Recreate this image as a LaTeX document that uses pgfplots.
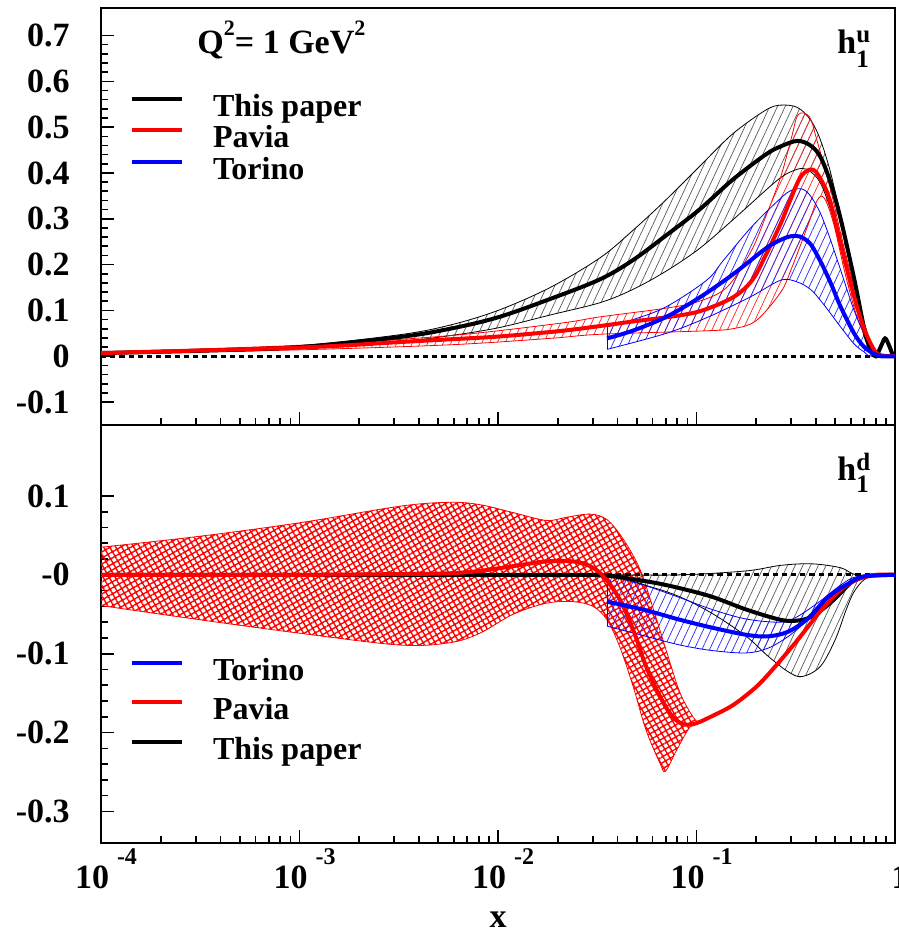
\documentclass[border=0pt]{standalone}
\usepackage{pgfplots}
\pgfplotsset{compat=1.18}
\usepgfplotslibrary{fillbetween}
\usetikzlibrary{patterns.meta}
\usepackage{fontspec}
\setmainfont{Liberation Serif}
\newcommand{\fs}[1]{\fontsize{#1}{#1}\selectfont\bfseries}
\newcommand{\xsup}[1]{\hspace{4pt}\raisebox{12pt}{\fs{12}#1}}
\newcommand{\tsup}[1]{\raisebox{9pt}{\fs{11}#1}}
\tikzset{
  hatchfill/.style={pattern={Lines[angle=65,distance=3.5pt,line width=0.35pt]}, pattern color=#1, draw=none},
  zeroline/.style={black, line width=1.5pt, dash pattern=on 2.6pt off 2pt},
}
\pgfplotsset{
  thickcurve/.style={line width=2pt, smooth, tension=0.55},
  thincurve/.style={line width=0.4pt, smooth, tension=0.55},
  legend image code/.code={\path (0pt,0pt) (39.5pt,0pt); \draw[#1] (0pt,5.5pt) -- (25pt,5.5pt);},
  every axis/.append style={
    xmode=log, xmin=1e-4, xmax=1,
    width=397pt, scale only axis, anchor=south west,
    axis line style={line width=0.9pt},
    tick align=inside, tick pos=left,
    major tick length=6.5pt, minor tick length=3.5pt,
    every tick/.style={black, line width=0.8pt},
    xtick={1e-4,1e-3,1e-2,1e-1,1},
    minor xtick={2e-4,3e-4,4e-4,5e-4,6e-4,7e-4,8e-4,9e-4,2e-3,3e-3,4e-3,5e-3,6e-3,7e-3,8e-3,9e-3,0.02,0.03,0.04,0.05,0.06,0.07,0.08,0.09,0.2,0.3,0.4,0.5,0.6,0.7,0.8,0.9},
    minor y tick num=4,
    yticklabel style={font=\fs{17}, inner sep=0pt, anchor=east, xshift=-15.5pt},
    legend cell align=left,
  },
}
\begin{document}
\begin{tikzpicture}

%%%%%%%%%%%%%%%% TOP PANEL %%%%%%%%%%%%%%%%
\begin{axis}[at={(0,209pt)}, height=208.5pt,
  ymin=-0.15, ymax=0.76,
  ytick={-0.1,0,0.1,0.2,0.3,0.4,0.5,0.6,0.7},
  yticklabels={-0.1,0,0.1,0.2,0.3,0.4,0.5,0.6,0.7},
  xticklabels={},
  legend style={draw=none, fill=none, font=\fs{16}, inner sep=0pt, outer sep=0pt, row sep=0pt,
    nodes={inner sep=0pt, text height=11pt, text depth=4.75pt},
    at={(axis description cs:0,1)}, anchor=north west, xshift=14.5pt, yshift=-43pt},
]
\addplot[zeroline, forget plot] coordinates {(1e-4,0) (1,0)};

% black band (This paper)
\addplot[thincurve, smooth, black, name path=BU, forget plot] coordinates {
(1e-4,0.008) (3.16e-4,0.013) (1e-3,0.023) (0.0032,0.047) (0.00573,0.068) (0.01,0.10)
(0.0183,0.15) (0.0327,0.215) (0.0479,0.275) (0.0704,0.342) (0.1034,0.414) (0.1518,0.485)
(0.2228,0.537) (0.2657,0.548) (0.322,0.543) (0.375,0.516) (0.421,0.472) (0.474,0.40)
(0.532,0.304) (0.622,0.173) (0.70,0.072) (0.787,0.013) (0.85,0.0) (1,0)};
\addplot[thincurve, smooth, black, name path=BL, forget plot] coordinates {
(1e-4,0.006) (3.16e-4,0.010) (1e-3,0.017) (0.0032,0.032) (0.00573,0.045) (0.01,0.062)
(0.0183,0.09) (0.0327,0.117) (0.0479,0.146) (0.0704,0.186) (0.1034,0.235) (0.1518,0.297)
(0.2228,0.362) (0.2657,0.39) (0.30,0.403) (0.34,0.41) (0.375,0.403) (0.421,0.378)
(0.474,0.319) (0.532,0.239) (0.622,0.13) (0.70,0.042) (0.76,0.006) (0.80,0) (1,0)};
\addplot[hatchfill=black!65, forget plot] fill between[of=BU and BL];

% red band (Pavia)
\addplot[thincurve, smooth, red, name path=RU, forget plot] coordinates {
(1e-4,0.009) (1e-3,0.024) (0.00573,0.045) (0.0205,0.072) (0.0327,0.086) (0.0704,0.105)
(0.1034,0.12) (0.1425,0.151) (0.1876,0.228) (0.2228,0.304) (0.2657,0.392) (0.30,0.475)
(0.325,0.527) (0.37,0.523) (0.405,0.47) (0.474,0.363) (0.532,0.268) (0.622,0.15)
(0.72,0.04) (0.82,0.003) (1,0)};
\addplot[thincurve, smooth, red, name path=RL, forget plot] coordinates {
(1e-4,0.005) (1e-3,0.014) (0.00573,0.025) (0.0183,0.039) (0.0327,0.048) (0.1034,0.055)
(0.1518,0.06) (0.2,0.078) (0.2657,0.14) (0.30,0.19) (0.36,0.28) (0.405,0.34)
(0.44,0.345) (0.49,0.29) (0.566,0.173) (0.66,0.072) (0.787,0.01) (0.85,0) (1,0)};
\addplot[hatchfill=red!85, forget plot] fill between[of=RU and RL];

% blue band (Torino)
\addplot[thincurve, smooth, blue, name path=TU, forget plot] coordinates {
(0.0354,0.064) (0.0479,0.08) (0.0704,0.108) (0.1125,0.166) (0.137,0.21) (0.19,0.283)
(0.2657,0.345) (0.30,0.362) (0.34,0.365) (0.375,0.35) (0.421,0.312) (0.474,0.253)
(0.532,0.188) (0.622,0.10) (0.70,0.05) (0.787,0.013) (0.87,0) (1,0)};
\addplot[thincurve, smooth, blue, name path=TL, forget plot] coordinates {
(0.0354,0.015) (0.0704,0.05) (0.115,0.086) (0.1876,0.13) (0.2657,0.166) (0.322,0.162)
(0.375,0.146) (0.421,0.122) (0.474,0.093) (0.532,0.064) (0.622,0.027) (0.70,0.009)
(0.76,0) (1,0)};
\addplot[blue, line width=0.4pt, forget plot] coordinates {(0.0354,0.015) (0.0354,0.064)};
\addplot[hatchfill=blue!85, forget plot] fill between[of=TU and TL];

% central curves
\addplot[thickcurve, smooth, black, forget plot] coordinates {
(1e-4,0.007) (3.16e-4,0.012) (1e-3,0.02) (0.0032,0.042) (0.00573,0.06) (0.01,0.085)
(0.0183,0.125) (0.0327,0.168) (0.0479,0.21) (0.0704,0.264) (0.1034,0.32) (0.1518,0.385)
(0.2228,0.44) (0.2657,0.458) (0.322,0.47) (0.375,0.46) (0.421,0.435) (0.474,0.378)
(0.532,0.30) (0.622,0.17) (0.70,0.06) (0.76,0.012) (0.80,0.0) (0.85,0.022)
(0.89,0.039) (0.93,0.025) (0.97,0.005) (1,0)};
\addplot[thickcurve, smooth, red, forget plot] coordinates {
(1e-4,0.007) (1e-3,0.019) (0.0032,0.031) (0.00573,0.037) (0.01,0.043) (0.0205,0.055)
(0.0327,0.066) (0.0479,0.076) (0.0704,0.085) (0.1034,0.098) (0.1518,0.128) (0.19,0.165)
(0.2228,0.22) (0.2657,0.29) (0.296,0.34) (0.333,0.39) (0.37,0.407) (0.40,0.402)
(0.442,0.37) (0.474,0.334) (0.532,0.246) (0.622,0.13) (0.70,0.059) (0.787,0.013)
(0.85,0.002) (1,0)};
\addplot[thickcurve, smooth, blue, forget plot] coordinates {
(0.0354,0.039) (0.0479,0.056) (0.0704,0.086) (0.1034,0.128) (0.1518,0.178) (0.2228,0.235)
(0.2657,0.254) (0.30,0.262) (0.333,0.261) (0.375,0.245) (0.421,0.207) (0.474,0.16)
(0.532,0.108) (0.622,0.05) (0.70,0.02) (0.787,0.005) (0.85,0) (1,0)};

\addlegendimage{black, line width=2pt}
\addlegendentry{This paper}
\addlegendimage{red, line width=2pt}
\addlegendentry{Pavia}
\addlegendimage{blue, line width=2pt}
\addlegendentry{Torino}

\node[anchor=base west, font=\fs{17}, inner sep=0pt] at (axis description cs:0.121,0.892) {Q\tsup{2}= 1 GeV\tsup{2}};
\node[anchor=base west, font=\fs{17}, inner sep=0pt] at (axis description cs:0.927,0.892) {h\rlap{\fs{12.5}\raisebox{5.5pt}{u}}\raisebox{-7pt}{\fs{12.5}1}};
\end{axis}

%%%%%%%%%%%%%%%% BOTTOM PANEL %%%%%%%%%%%%%%%%
\begin{axis}[at={(0,0)}, height=209pt,
  ymin=-0.34, ymax=0.19,
  ytick={-0.3,-0.2,-0.1,0,0.1},
  yticklabels={-0.3,-0.2,-0.1,-0,0.1},
  xticklabels={{10\xsup{-4}},{10\xsup{-3}},{10\xsup{-2}},{10\xsup{-1}},1},
  xticklabel style={font=\fs{17}, anchor=base, inner sep=0pt, yshift=-23pt, xshift=2.5pt},
  xlabel={x},
  xlabel style={font=\fs{17}, at={(axis description cs:0.5,0)}, anchor=base, inner sep=0pt, yshift=-42pt},
  legend style={draw=none, fill=none, font=\fs{16}, inner sep=0pt, outer sep=0pt, row sep=4pt,
    nodes={inner sep=0pt, text height=11pt, text depth=4.75pt},
    at={(axis description cs:0,1)}, anchor=north west, xshift=14.5pt, yshift=-116.5pt},
]
\addplot[zeroline, forget plot] coordinates {(1e-4,0) (1,0)};

% red band (Pavia)
\addplot[thincurve, smooth, red, name path=RU, forget plot] coordinates {
(1e-4,0.035) (3.16e-4,0.049) (1e-3,0.066) (0.0032,0.087) (0.00573,0.092) (0.0081,0.089)
(0.0119,0.079) (0.0175,0.069) (0.0221,0.073) (0.0291,0.077) (0.0354,0.07) (0.0428,0.045)
(0.0519,0.007) (0.0607,-0.044) (0.071,-0.099) (0.0827,-0.15) (0.0965,-0.181) (0.104,-0.188)};
\addplot[thincurve, smooth, red, name path=RL, forget plot] coordinates {
(1e-4,-0.039) (3.16e-4,-0.057) (1e-3,-0.074) (0.0032,-0.089) (0.00573,-0.086) (0.0081,-0.074)
(0.0119,-0.05) (0.0175,-0.036) (0.0239,-0.034) (0.0301,-0.04) (0.0354,-0.057) (0.041,-0.091)
(0.048,-0.142) (0.0557,-0.197) (0.0655,-0.239) (0.0697,-0.249) (0.0795,-0.222) (0.0927,-0.193)
(0.104,-0.188)};
\addplot[pattern={Hatch[angle=30,distance=2.6pt,line width=0.7pt]}, pattern color=red, draw=none, forget plot] fill between[of=RU and RL];

% black band (This paper)
\addplot[thincurve, smooth, black, name path=BU, forget plot] coordinates {
(1e-4,0) (0.01,0) (0.0354,0) (0.0826,0.0) (0.178,0.005) (0.265,0.012) (0.38,0.014)
(0.532,0.009) (0.645,0.0) (1,0)};
\addplot[thincurve, smooth, black, name path=BL, forget plot] coordinates {
(1e-4,0) (0.01,0) (0.0354,-0.002) (0.0583,-0.015) (0.0826,-0.028) (0.12,-0.049)
(0.178,-0.078) (0.229,-0.103) (0.29,-0.123) (0.34,-0.129) (0.421,-0.116) (0.5,-0.082)
(0.566,-0.045) (0.62,-0.022) (0.7,-0.006) (0.8,-0.001) (1,0)};
\addplot[hatchfill=black!65, forget plot] fill between[of=BU and BL];

% blue band (Torino)
\addplot[thincurve, smooth, blue, name path=TU, forget plot] coordinates {
(0.0354,0.0) (0.0557,-0.014) (0.0826,-0.029) (0.12,-0.044) (0.178,-0.056) (0.265,-0.06)
(0.322,-0.053) (0.421,-0.033) (0.532,-0.013) (0.65,-0.002) (1,0)};
\addplot[thincurve, smooth, blue, name path=TL, forget plot] coordinates {
(0.0354,-0.065) (0.0557,-0.078) (0.0826,-0.089) (0.12,-0.096) (0.178,-0.099) (0.229,-0.093)
(0.29,-0.078) (0.365,-0.057) (0.46,-0.033) (0.593,-0.01) (0.7,-0.001) (1,0)};
\addplot[blue, line width=0.4pt, forget plot] coordinates {(0.0354,-0.065) (0.0354,0)};
\addplot[hatchfill=blue!85, forget plot] fill between[of=TU and TL];

% central curves
\addplot[thickcurve, smooth, black, forget plot] coordinates {
(1e-4,0) (0.001,0) (0.01,0) (0.025,0) (0.0354,-0.001) (0.0583,-0.009) (0.0826,-0.017)
(0.1203,-0.028) (0.178,-0.044) (0.265,-0.057) (0.322,-0.058) (0.38,-0.053) (0.47,-0.036)
(0.593,-0.011) (0.645,-0.005) (0.75,-0.001) (1,0)};
\addplot[thickcurve, smooth, red, forget plot] coordinates {
(1e-4,0.0) (1e-3,0.0) (0.0032,0.001) (0.00573,0.002) (0.0081,0.005) (0.0119,0.011)
(0.0175,0.017) (0.0239,0.017) (0.0291,0.011) (0.034,-0.002) (0.041,-0.031) (0.048,-0.07)
(0.0557,-0.116) (0.0655,-0.154) (0.0764,-0.181) (0.088,-0.19) (0.1,-0.188) (0.12,-0.179)
(0.153,-0.165) (0.2,-0.142) (0.2456,-0.118) (0.322,-0.083) (0.421,-0.046) (0.532,-0.019)
(0.645,-0.006) (0.8,0) (1,0)};
\addplot[thickcurve, smooth, blue, forget plot] coordinates {
(0.0354,-0.034) (0.0557,-0.045) (0.0826,-0.057) (0.12,-0.067) (0.178,-0.076) (0.229,-0.078)
(0.29,-0.072) (0.365,-0.055) (0.46,-0.028) (0.593,-0.01) (0.7,-0.002) (1,0)};

\addlegendimage{blue, line width=2pt}
\addlegendentry{Torino}
\addlegendimage{red, line width=2pt}
\addlegendentry{Pavia}
\addlegendimage{black, line width=2pt}
\addlegendentry{This paper}

\node[anchor=base west, font=\fs{17}, inner sep=0pt] at (axis description cs:0.927,0.868) {h\rlap{\fs{12.5}\raisebox{5pt}{d}}\raisebox{-6pt}{\fs{12.5}1}};
\end{axis}

\pgfresetboundingbox
\useasboundingbox (-50.5pt,-43pt) rectangle (398.5pt,421.5pt);
\end{tikzpicture}
\end{document}
